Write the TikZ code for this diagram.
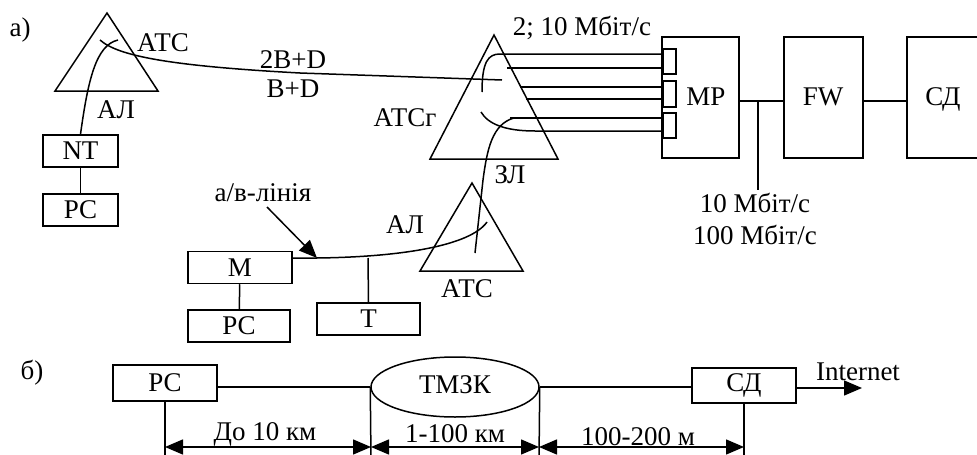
\documentclass[tikz,border=0pt]{standalone}
\usepackage{fontspec}
\setmainfont{Liberation Serif}
\usetikzlibrary{arrows.meta,shapes.geometric}
\begin{document}
\begin{tikzpicture}[x=1pt,y=-1pt,
  ln/.style={line width=1.5pt},
  box/.style={draw,line width=1.5pt,minimum width=#1,minimum height=32pt,inner sep=0pt,font=\fontsize{27}{31}\selectfont},
  box/.default=75pt,
  lbl/.style={font=\fontsize{27}{31}\selectfont,inner sep=0pt},
  tip/.style={-{Triangle[length=18pt,width=15pt]}},
  dim/.style={{Triangle[length=18pt,width=15pt]}-{Triangle[length=18pt,width=15pt]},line width=1.5pt}
]
\useasboundingbox (0,0) rectangle (977,455);
\begin{scope}
\clip (0,0) rectangle (977,455);

% labels a), b)
\node[lbl] (la) at (20,30) {а)};
\node[lbl] (lb) at (32,373) {б)};

% ---- top-left ATC
\draw[ln] (107,13) -- (55,91) -- (158,91) -- cycle;
\node[lbl] (atc1) at (163,43) {АТС};
\node[box] (nt) at (80.5,151) {NT};
\node[box] (pc1) at (80.5,210) {РС};
\draw[ln] (nt) -- (pc1);
\node[lbl] (al1) at (116,110) {АЛ};
\draw[ln] (nt.north) .. controls (88,80) and (96,45) .. (118,40);
\coordinate (b1) at (502,80);
\draw[ln] (100,40) .. controls (118,56) and (170,66) .. (300,73) -- (b1);
\node[lbl] (bd2) at (293,60) {2B+D};
\node[lbl] (bd1) at (293,89) {B+D};

% ---- ATCg
\draw[ln] (494,35) -- (430,159) -- (558,159) -- cycle;
\node[lbl] (atcg) at (405,118) {АТСг};
\node[lbl] (sp1) at (582,28) {2; 10 Мбіт/с};

% MP
\node[draw,line width=1.5pt,minimum width=77pt,minimum height=121pt,inner sep=0pt] (mp) at (700.5,97.5) {};
\node[lbl] (mpt) at (706,97) {MP};
\node[draw,line width=1.5pt,minimum width=13pt,minimum height=25pt,inner sep=0pt,anchor=west] (p1) at (662,61.5) {};
\node[draw,line width=1.5pt,minimum width=13pt,minimum height=26pt,inner sep=0pt,anchor=west] (p2) at (662,94) {};
\node[draw,line width=1.5pt,minimum width=13pt,minimum height=25pt,inner sep=0pt,anchor=west] (p3) at (662,125.5) {};

\draw[ln] (482,92) .. controls (482,62) and (488,54) .. (500,54) -- (p1.west |- 0,54);
\draw[ln] (507,68) -- (p1.west |- 0,68);
\draw[ln] (520,87) -- (p2.west |- 0,87);
\draw[ln] (526,99) -- (p2.west |- 0,99);
\draw[ln] (510,118) -- (p3.west |- 0,118);
\draw[ln] (481,112) .. controls (488,124) and (505,131) .. (535,131) -- (p3.west |- 0,131);
\node[lbl] (zl) at (510,175) {ЗЛ};

% FW, SD
\node[draw,line width=1.5pt,minimum width=79pt,minimum height=121pt,inner sep=0pt] (fw) at (823.5,97.5) {};
\node[lbl] (fwt) at (823,97) {FW};
\node[draw,line width=1.5pt,minimum width=80pt,minimum height=121pt,inner sep=0pt] (sd) at (947,97.5) {};
\node[lbl] (sdt) at (943,99) {СД};
\draw[ln] (mp.east |- 0,101) -- (fw.west |- 0,101);
\draw[ln] (fw.east |- 0,101) -- (sd.west |- 0,101);
\coordinate (j) at (758,101);
\coordinate (je) at (758,190);
\draw[ln] (j) -- (je);
\node[lbl] (s10) at (755,203) {10 Мбіт/с};
\node[lbl] (s100) at (755,235) {100 Мбіт/с};

% ---- lower ATC
\draw[ln] (472,183) -- (420,271) -- (523,271) -- cycle;
\node[lbl] (atc2) at (467,289) {АТС};
\node[lbl] (al2) at (405,225) {АЛ};
\draw[ln] (514,118) .. controls (492,124) and (487,150) .. (483,180) -- (475,253);

\node[box=104pt] (m) at (240,267.5) {M};
\node[box=102pt] (pc2) at (239,326) {РС};
\node[box=103pt] (t) at (368.5,319) {T};
\draw[ln] (m) -- (pc2);
\coordinate (c1) at (317,258);
\draw[ln] (m.east |- c1) -- (c1) .. controls (400,257) and (470,246) .. (487,222);
\draw[ln] (t.north) -- (368,258);
\node[lbl] (av) at (263,193) {а/в-лінія};
\draw[ln,tip] (267,207) -- (c1);

% ---- part b
\node[box=104pt,minimum height=36pt] (pcb) at (165,383) {РС};
\node[draw,ellipse,line width=1.5pt,minimum width=168pt,minimum height=60pt,inner sep=0pt] (tm) at (455,387) {};
\node[lbl] (tmt) at (455,385) {ТМЗК};
\node[box=104pt,minimum height=35pt] (sdb) at (744,385.5) {СД};
\draw[ln] (pcb.east |- tm.west) -- (tm.west);
\draw[ln] (tm.east) -- (sdb.west |- tm.east);
\coordinate (inet) at (862,388);
\draw[ln,tip] (sdb.east |- inet) -- (inet);
\node[lbl] (it) at (858,372) {Internet};

\coordinate (d1) at (165,447);
\coordinate (d2) at (371,447);
\coordinate (d3) at (539,447);
\coordinate (d4) at (744,447);
\draw[ln] (pcb.south) -- (165,460);
\draw[ln] (tm.west) -- (371,460);
\draw[ln] (tm.east) -- (539,460);
\draw[ln] (sdb.south) -- (744,460);
\draw[dim] (d1) -- (d2);
\draw[dim] (d2) -- (d3);
\draw[dim] (d3) -- (d4);
\node[lbl] (k1) at (265,434) {До 10 км};
\node[lbl] (k2) at (455,434) {1-100 км};
\node[lbl] (k3) at (638,437) {100-200 м};
\end{scope}
\end{tikzpicture}
\end{document}
